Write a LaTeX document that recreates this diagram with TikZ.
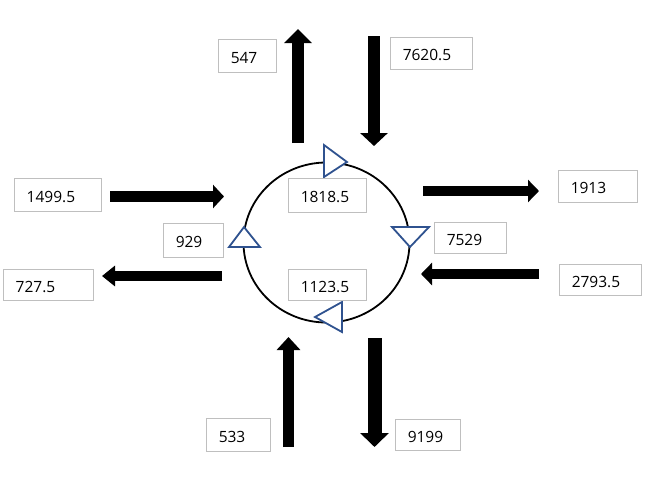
\documentclass[tikz,border=0pt]{standalone}
\usepackage{fontspec}
\setmainfont{Open Sans}
\usetikzlibrary{arrows.meta}
\definecolor{triblue}{RGB}{47,82,143}
\definecolor{boxgray}{RGB}{191,191,191}
\begin{document}
\begin{tikzpicture}[x=1pt,y=-1pt,
  valbox/.style={draw=boxgray, line width=0.9pt, fill=white, inner sep=0pt},
  valtext/.style={anchor=base west, inner sep=0pt, font=\fontsize{15.5}{18}\selectfont},
  blockarr/.style={line width=11pt, black, -{Triangle[width=25pt,length=13pt]}},
  flowtri/.style={draw=triblue, fill=white, line width=1.8pt, line join=miter}]
\fill[white] (0,0) rectangle (657,483);
\useasboundingbox (0,0) rectangle (657,483);

% ring
\draw[line width=1.8pt] (326.5,242.5) ellipse [x radius=83, y radius=80];

% direction triangles on the ring
\draw[flowtri] (324,145) -- (324,177) -- (347,162) -- cycle;
\draw[flowtri] (392,227) -- (429,227) -- (410,247) -- cycle;
\draw[flowtri] (342,302) -- (342,332) -- (315,317) -- cycle;
\draw[flowtri] (229,247) -- (260,247) -- (244,227) -- cycle;

% value boxes
\foreach \nm/\xa/\ya/\xb/\yb/\t in {
  bA/218/39/276/72/547,
  bB/390/37/472/69/7620.5,
  bC/14/178/101/211/1499.5,
  bD/288/178/366/212/1818.5,
  bE/558/170/637/202/1913,
  bF/163/223/223/257/929,
  bG/434/222/506/253/7529,
  bH/3/269/93/300/727.5,
  bI/288/269/366/300/1123.5,
  bJ/559/264/641/295/2793.5,
  bK/206/418/270/451/533,
  bL/395/419/460/450/9199}{
  \pgfmathsetmacro\w{\xb-\xa}
  \pgfmathsetmacro\h{\yb-\ya}
  \pgfmathsetmacro\cx{(\xa+\xb)/2}
  \pgfmathsetmacro\cy{(\ya+\yb)/2}
  \node[valbox, minimum width=\w pt, minimum height=\h pt] (\nm) at (\cx,\cy) {};
  \node[valtext] (\nm-t) at ([xshift=13pt,yshift=-7.5pt]\nm.west) {\t};
}

% block arrows
\coordinate (a1s) at (298,143); \coordinate (a1e) at (298,29);
\coordinate (a2s) at (374,36);  \coordinate (a2e) at (374,146);
\coordinate (a3s) at (110,196.5); \coordinate (a3e) at (224,196.5);
\coordinate (a4s) at (222,276); \coordinate (a4e) at (102,276);
\coordinate (a5s) at (423,191); \coordinate (a5e) at (539,191);
\coordinate (a6s) at (539,274); \coordinate (a6e) at (421,274);
\coordinate (a7s) at (288.5,447); \coordinate (a7e) at (288.5,337);
\coordinate (a8s) at (374.5,338); \coordinate (a8e) at (374.5,447);

\draw[blockarr, line width=12pt, -{Triangle[width=27pt,length=14pt]}] (a1s) -- (a1e);
\draw[blockarr, line width=12pt, -{Triangle[width=27pt,length=13pt]}] (a2s) -- (a2e);
\draw[blockarr, -{Triangle[width=23pt,length=11pt]}] (a3s) -- (a3e);
\draw[blockarr, line width=10pt, -{Triangle[width=20pt,length=13pt]}] (a4s) -- (a4e);
\draw[blockarr, line width=10pt, -{Triangle[width=22pt,length=11pt]}] (a5s) -- (a5e);
\draw[blockarr, line width=10pt, -{Triangle[width=22pt,length=11pt]}] (a6s) -- (a6e);
\draw[blockarr, -{Triangle[width=23pt,length=13pt]}] (a7s) -- (a7e);
\draw[blockarr, line width=14pt, -{Triangle[width=28pt,length=14pt]}] (a8s) -- (a8e);
\end{tikzpicture}
\end{document}
